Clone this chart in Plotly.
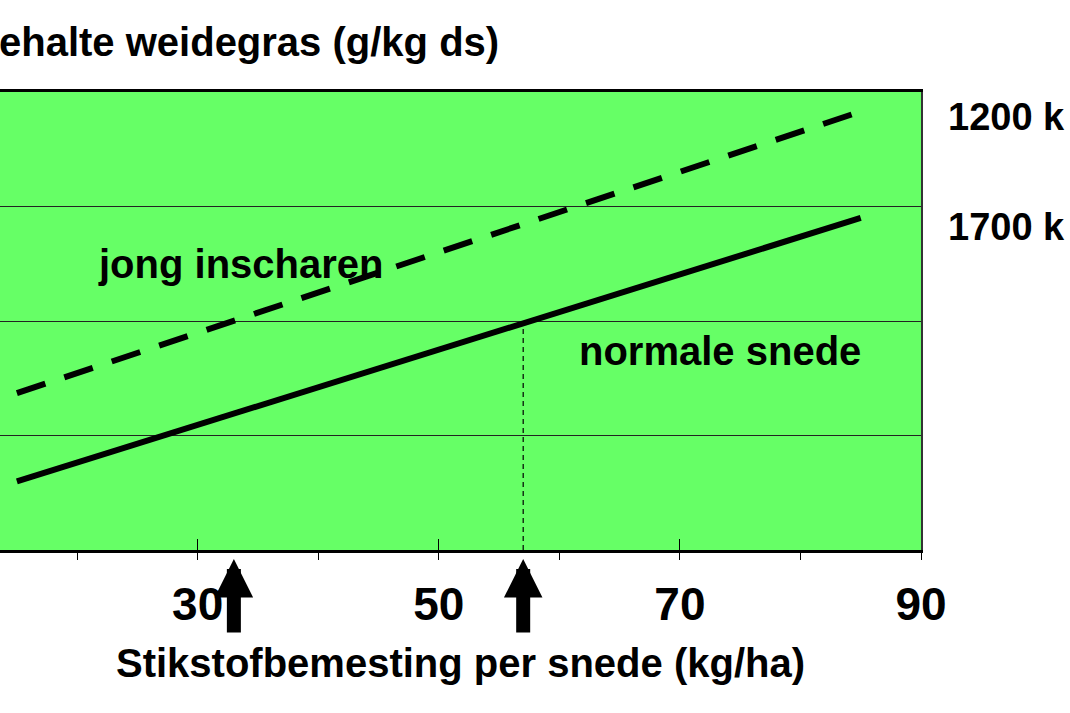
import plotly.graph_objects as go

# values (x = kg N/ha per cut, y = arbitrary units, grid every 50)
x_ends = [15, 85]
normale_snede = [130, 245]
jong_inscharen = [168.5, 291.5]
arrow_x = [33, 57]
vline_x = [57, 57]
vline_y = [100, 200]
x_range = [13.6, 90]
y_range = [100, 300]
major_ticks = [30, 50, 70, 90]
all_ticks = [20, 30, 40, 50, 60, 70, 80, 90]

font = "Arial, Liberation Sans, sans-serif"
green = "#66ff66"

fig = go.Figure()

fig.add_trace(go.Scatter(x=x_ends, y=jong_inscharen, mode="lines",
                         line=dict(color="black", width=6, dash="30px,20px")))
fig.add_trace(go.Scatter(x=x_ends, y=normale_snede, mode="lines",
                         line=dict(color="black", width=6)))
fig.add_trace(go.Scatter(x=vline_x, y=vline_y, mode="lines",
                         line=dict(color="black", width=1.2, dash="5px,4px")))
# dummy trace so the second (tick only) x axis gets drawn
fig.add_trace(go.Scatter(x=[x_range[1]], y=[y_range[0]], xaxis="x2", mode="markers",
                         marker=dict(opacity=0), hoverinfo="skip"))

# arrows under the axis
for ax_ in arrow_x:
    fig.add_annotation(x=ax_, y=y_range[0], xref="x", yref="y", text="",
                       showarrow=True, ax=0, ay=84, arrowhead=2, arrowsize=0.55,
                       arrowwidth=14, arrowcolor="black", standoff=9)

fig.add_annotation(x=33.6, y=225, xref="x", yref="y", text="<b>jong inscharen</b>",
                   showarrow=False, font=dict(size=40, color="black", family=font))
fig.add_annotation(x=73.3, y=187, xref="x", yref="y", text="<b>normale snede</b>",
                   showarrow=False, font=dict(size=40, color="black", family=font))
fig.add_annotation(x=1.027, y=289, xref="paper", yref="y", text="<b>1200 k</b>",
                   xanchor="left", showarrow=False,
                   font=dict(size=38, color="black", family=font))
fig.add_annotation(x=1.027, y=241, xref="paper", yref="y", text="<b>1700 k</b>",
                   xanchor="left", showarrow=False,
                   font=dict(size=38, color="black", family=font))
fig.add_annotation(x=0, y=1.109, xref="paper", yref="paper", text="<b>ehalte weidegras (g/kg ds)</b>",
                   xanchor="left", yanchor="middle", xshift=-3, showarrow=False,
                   font=dict(size=40, color="black", family=font))

fig.update_layout(
    width=1070, height=713,
    margin=dict(l=0, r=149, t=92, b=163),
    paper_bgcolor="white",
    plot_bgcolor=green,
    showlegend=False,
    xaxis=dict(range=x_range, tickvals=major_ticks, ticks="inside", ticklen=11,
               tickcolor="black", tickwidth=1.2, showgrid=False, zeroline=False,
               showline=True, linecolor="black", linewidth=2.5, mirror=True,
               tickfont=dict(size=46, family=font, color="black", weight="bold"),
               ticklabelstandoff=12,
               title=dict(text="<b>Stikstofbemesting per snede (kg/ha)</b>",
                          font=dict(size=40, family=font, color="black"), standoff=21)),
    xaxis2=dict(range=x_range, overlaying="x", side="bottom", anchor="y",
                tickvals=all_ticks, ticks="outside", ticklen=9, tickcolor="black",
                tickwidth=1.2, showticklabels=False, showgrid=False, zeroline=False,
                showline=False),
    yaxis=dict(range=y_range, dtick=50, side="right", showticklabels=False, ticks="",
               showgrid=True, gridcolor="#222", gridwidth=1.3, zeroline=False,
               showline=True, linecolor="#333", linewidth=1.5),
)

fig.write_html("out.html", config={"displayModeBar": False},
               post_script="document.body.style.margin = '0';")
